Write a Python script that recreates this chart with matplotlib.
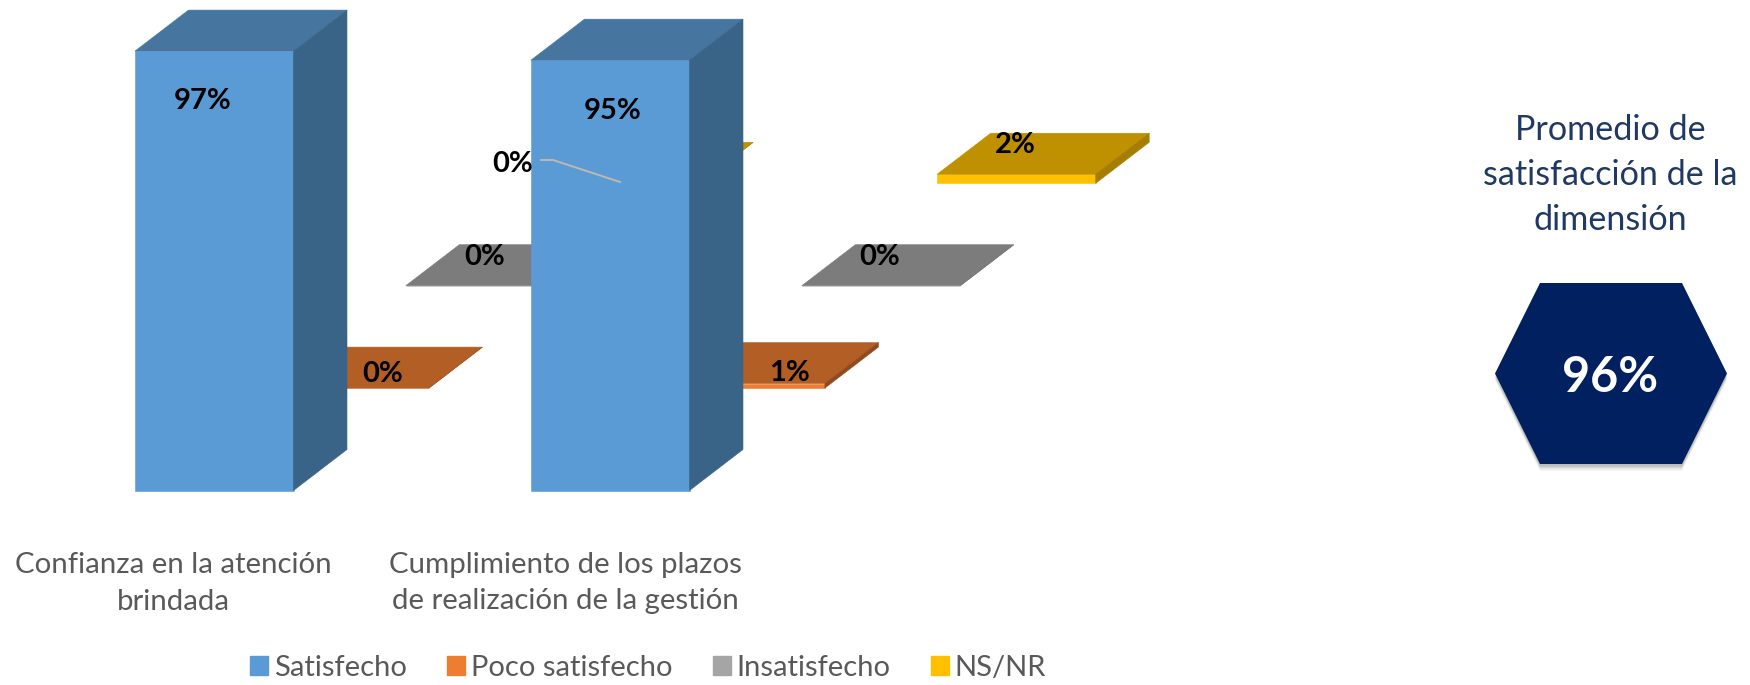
import matplotlib
matplotlib.use("Agg")
import matplotlib.pyplot as plt
from matplotlib.patches import Polygon, Patch
from matplotlib.transforms import Affine2D, Bbox

# ---- data ----
categories = ["Confianza en la atención\nbrindada",
              "Cumplimiento de los plazos\nde realización de la gestión"]
series_names = ["Satisfecho", "Poco satisfecho", "Insatisfecho", "NS/NR"]
satisfecho = [97, 95]
poco_satisfecho = [0, 1]
insatisfecho = [0, 0]
ns_nr = [0, 2]
promedio = 96
promedio_title = "Promedio de\nsatisfacción de la\ndimensión"

# ---- styles ----
W, H = 1750, 685
FONT = "Lato"
front_colors = ["#5B9BD5", "#ED7D31", "#A5A5A5", "#FFC000"]
top_colors = ["#4675A0", "#B25E25", "#7C7C7C", "#BF9000"]
side_colors = ["#3A6487", "#8E4B1D", "#6B6B6B", "#A67D00"]

fig = plt.figure(figsize=(W / 100, H / 100), dpi=100, facecolor="white")
ax = fig.add_axes([0, 0, 1, 1])

# pixel layout -> axes scales: 1 category = 396 px, 1 percentage point = 4.53 px
PX_PER_CAT, PX_PER_PCT = 396.0, 4.53
X0_PX, Y0_PX = 135.0, 490.5
ax.set_xlim(-X0_PX / PX_PER_CAT, (W - X0_PX) / PX_PER_CAT)
ax.set_ylim((Y0_PX - H) / PX_PER_PCT, Y0_PX / PX_PER_PCT)
ax.axis("off")

BAR_W = 158.5 / PX_PER_CAT
SERIES_DX = 135.4 / PX_PER_CAT
SERIES_DY = 102.4 / PX_PER_PCT
DEPTH_X = 53.5 / PX_PER_CAT
DEPTH_Y = 41.0 / PX_PER_PCT

px = Affine2D().scale(1, -1).translate(0, H)   # pixel coordinates, y downwards


def bar3d(x, base, value, s, z):
    x1 = x + BAR_W
    top = base + value
    dx, dy = DEPTH_X, DEPTH_Y
    faces = [
        ([(x, base), (x1, base), (x1, top), (x, top)], front_colors[s]),
        ([(x, top), (x1, top), (x1 + dx, top + dy), (x + dx, top + dy)], top_colors[s]),
        ([(x1, base), (x1 + dx, base + dy), (x1 + dx, top + dy), (x1, top)], side_colors[s]),
    ]
    for pts, col in faces:
        ax.add_patch(Polygon(pts, closed=True, facecolor=col, edgecolor=col,
                             linewidth=0.4, zorder=z))


all_series = [satisfecho, poco_satisfecho, insatisfecho, ns_nr]
for s in [3, 2, 1, 0]:
    for c, vals in enumerate(zip(*all_series)):
        bar3d(c + s * SERIES_DX, s * SERIES_DY, vals[s], s, 3 + (3 - s))

# data labels (moved by hand in the original, so they sit at pixel positions)
label_px = {
    (0, 0): (203, 101), (0, 1): (383, 374), (0, 2): (485, 257), (0, 3): (513, 164),
    (1, 0): (613, 111), (1, 1): (790, 373), (1, 2): (880, 257), (1, 3): (1015, 145),
}
label_clip_top = {(1, 2): 244, (1, 3): 132}
for (c, s), (lx, ly) in label_px.items():
    t = ax.text(lx, ly, f"{all_series[s][c]}%", transform=px, ha="center", va="center",
                fontsize=21, fontweight="bold", color="black", family=FONT, zorder=10)
    if (c, s) in label_clip_top:
        t.set_clip_box(Bbox([[0, 0], [W, H - label_clip_top[(c, s)]]]))
        t.set_clip_on(True)

# leader line of the hidden NS/NR label
ax.plot([541, 553, 620], [160, 160, 182], transform=px, color="#BFB8AE", lw=1.4, zorder=9)

# category labels
for c, (cx, label) in enumerate(zip([173, 565], categories)):
    for i, line in enumerate(label.split("\n")):
        ax.text(cx, 565 + 36.5 * i, line, transform=px, ha="center", va="center",
                fontsize=21.2, color="#595959", family=FONT)

# legend
handles = [Patch(facecolor=col, edgecolor=col, label=n) for col, n in zip(front_colors, series_names)]
ax.legend(handles=handles, ncol=4, loc="center", bbox_to_anchor=(648 / W, 1 - 668 / H),
          bbox_transform=fig.transFigure, frameon=False, labelcolor="#595959",
          prop={"family": FONT, "size": 21}, handlelength=0.62, handleheight=0.62,
          handletextpad=0.2, columnspacing=1.38, borderpad=0, borderaxespad=0)

# right panel
for i, line in enumerate(promedio_title.split("\n")):
    ax.text(1610, 130 + 45 * i, line, transform=px, ha="center", va="center",
            fontsize=24.6, color="#1F3864", family=FONT)

hexagon = [(1540, 283), (1682, 283), (1727, 373.5), (1682, 464), (1540, 464), (1495, 373.5)]
for off, alpha in [(7, 0.04), (5.5, 0.06), (4, 0.08), (2.5, 0.1)]:
    ax.add_patch(Polygon([(x, y + off) for x, y in hexagon], closed=True, transform=px,
                         facecolor="black", edgecolor="none", alpha=alpha, zorder=5))
ax.add_patch(Polygon(hexagon, closed=True, transform=px, facecolor="#002060",
                     edgecolor="none", zorder=6))
ax.text(1610, 378, f"{promedio}%", transform=px, ha="center", va="center",
        fontsize=35, fontweight="bold", color="white", family=FONT, zorder=7)

fig.savefig("out.png", dpi=100, facecolor="white")
